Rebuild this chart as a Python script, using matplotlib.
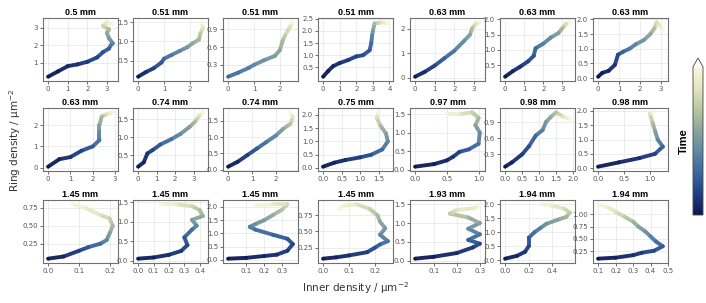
import numpy as np
import matplotlib
matplotlib.use("Agg")
import matplotlib.pyplot as plt
from matplotlib.collections import LineCollection
from matplotlib.colors import LinearSegmentedColormap, Normalize
from matplotlib.cm import ScalarMappable

titles = ["0.5 mm", "0.51 mm", "0.51 mm", "0.51 mm", "0.63 mm", "0.63 mm", "0.63 mm",
          "0.63 mm", "0.74 mm", "0.74 mm", "0.75 mm", "0.97 mm", "0.98 mm", "0.98 mm",
          "1.45 mm", "1.45 mm", "1.45 mm", "1.45 mm", "1.93 mm", "1.94 mm", "1.94 mm"]

xs = [
    [0, 0.5, 1, 1.5, 2, 2.5, 2.8, 3.1, 3.2, 3.3, 3.1, 3.0, 3.1, 2.8, 3.0, 3.3],
    [0, 0.3, 0.6, 0.9, 1.0, 1.3, 1.6, 1.9, 2.1, 2.35, 2.4, 2.5, 2.45],
    [0, 0.4, 0.8, 1.0, 1.4, 1.8, 2.0, 2.1, 2.2, 2.4, 2.5],
    [0, 0.3, 0.6, 1.0, 1.5, 2.0, 2.4, 2.8, 2.9, 2.95, 3.0, 3.1, 3.5, 3.9],
    [0, 0.5, 1.0, 1.5, 2.0, 2.5, 2.8, 2.9, 3.1, 3.3],
    [0, 0.4, 0.8, 1.2, 1.5, 1.6, 2.0, 2.4, 2.8, 3.0, 3.2, 3.4],
    [0, 0.2, 0.5, 0.8, 0.95, 1.2, 1.5, 1.8, 2.2, 2.5, 2.7, 2.8, 3.0, 3.1],
    [0, 0.5, 1.0, 1.5, 2.0, 2.3, 2.3, 2.3, 2.4, 2.6, 2.9],
    [0, 0.3, 0.5, 0.8, 1.2, 1.8, 2.3, 2.8, 3.1, 3.3, 3.5],
    [0, 0.4, 0.8, 1.2, 1.6, 2.0, 2.3, 2.6, 2.7, 2.6],
    [0, 0.3, 0.6, 1.0, 1.3, 1.6, 1.75, 1.7, 1.55, 1.45, 1.5],
    [0, 0.3, 0.5, 0.6, 0.7, 0.85, 1.0, 1.02, 0.95, 1.0, 0.9, 0.7, 0.5],
    [0, 0.2, 0.5, 0.7, 0.9, 1.1, 1.2, 1.35, 1.5, 1.7, 1.9],
    [0, 0.4, 0.8, 1.1, 1.25, 1.15, 1.1, 1.05, 1.0, 1.05],
    [0, 0.05, 0.1, 0.13, 0.17, 0.19, 0.2, 0.21, 0.2, 0.17, 0.12, 0.08],
    [0, 0.1, 0.2, 0.28, 0.32, 0.3, 0.35, 0.38, 0.35, 0.42, 0.4, 0.35, 0.25, 0.15],
    [0, 0.1, 0.2, 0.27, 0.33, 0.36, 0.33, 0.25, 0.15, 0.12, 0.15, 0.2, 0.25, 0.3, 0.33, 0.25, 0.15],
    [0, 0.05, 0.1, 0.17, 0.2, 0.22, 0.25, 0.22, 0.24, 0.22, 0.21, 0.18, 0.13, 0.08, 0.06],
    [0.02, 0.1, 0.2, 0.27, 0.3, 0.25, 0.3, 0.25, 0.3, 0.25, 0.17, 0.2, 0.28, 0.3],
    [0, 0.1, 0.17, 0.2, 0.2, 0.25, 0.3, 0.35, 0.45, 0.52, 0.55, 0.5, 0.4, 0.3],
    [0.1, 0.2, 0.3, 0.35, 0.42, 0.47, 0.43, 0.4, 0.37, 0.33, 0.3, 0.25, 0.2, 0.15, 0.1],
]

ys = [
    [0.2, 0.5, 0.8, 0.9, 1.05, 1.3, 1.6, 1.8, 2.0, 2.1, 2.4, 2.7, 2.9, 3.1, 3.3, 3.2],
    [0.08, 0.2, 0.3, 0.45, 0.55, 0.65, 0.75, 0.85, 0.95, 1.05, 1.2, 1.35, 1.5],
    [0.1, 0.17, 0.25, 0.3, 0.38, 0.45, 0.55, 0.7, 0.8, 0.95, 1.02],
    [0.12, 0.35, 0.55, 0.68, 0.8, 0.95, 1.0, 1.2, 1.5, 1.8, 2.0, 2.3, 2.35, 2.3],
    [0.05, 0.25, 0.5, 0.8, 1.1, 1.5, 1.75, 2.0, 2.2, 2.25],
    [0.12, 0.3, 0.45, 0.62, 0.8, 1.05, 1.2, 1.4, 1.55, 1.7, 1.85, 1.9],
    [0.05, 0.18, 0.25, 0.45, 0.8, 0.9, 1.0, 1.15, 1.3, 1.5, 1.7, 1.9, 1.75, 1.6],
    [0.05, 0.4, 0.5, 0.8, 1.0, 1.3, 1.7, 2.0, 2.4, 2.5, 2.6],
    [0.18, 0.3, 0.55, 0.65, 0.8, 0.95, 1.1, 1.3, 1.45, 1.6, 1.7],
    [0.1, 0.25, 0.45, 0.65, 0.85, 1.05, 1.25, 1.4, 1.6, 1.75],
    [0.05, 0.2, 0.3, 0.4, 0.5, 0.7, 1.0, 1.3, 1.6, 1.9, 2.1],
    [0.08, 0.15, 0.25, 0.35, 0.48, 0.55, 0.7, 1.0, 1.2, 1.4, 1.55, 1.5, 1.5],
    [0.07, 0.15, 0.3, 0.45, 0.65, 0.75, 0.9, 1.0, 1.08, 1.0, 0.95],
    [0.05, 0.2, 0.35, 0.5, 0.75, 1.0, 1.3, 1.6, 1.9, 1.95],
    [0.04, 0.07, 0.15, 0.2, 0.25, 0.3, 0.4, 0.5, 0.6, 0.65, 0.75, 0.8],
    [0.05, 0.08, 0.15, 0.25, 0.4, 0.6, 0.8, 0.9, 1.05, 1.15, 1.3, 1.4, 1.45, 1.45],
    [0.05, 0.08, 0.15, 0.2, 0.35, 0.6, 0.8, 0.95, 1.15, 1.25, 1.35, 1.5, 1.7, 1.9, 2.1, 2.1, 2.05],
    [0.08, 0.1, 0.13, 0.18, 0.25, 0.3, 0.35, 0.45, 0.55, 0.65, 0.75, 0.85, 0.92, 0.9, 0.85],
    [0.05, 0.1, 0.2, 0.35, 0.45, 0.55, 0.7, 0.85, 1.0, 1.15, 1.25, 1.35, 1.4, 1.5],
    [0.05, 0.15, 0.3, 0.5, 0.8, 1.0, 1.15, 1.3, 1.45, 1.55, 1.7, 1.85, 1.95, 2.0],
    [0.1, 0.12, 0.17, 0.22, 0.26, 0.35, 0.45, 0.55, 0.65, 0.75, 0.85, 0.95, 1.05, 1.15, 1.2],
]

# time fraction at each waypoint
ts = [
    [0, 0.03, 0.06, 0.09, 0.12, 0.16, 0.2, 0.25, 0.35, 0.42, 0.5, 0.58, 0.66, 0.78, 0.9, 1.0],
    [0, 0.08, 0.15, 0.22, 0.3, 0.36, 0.42, 0.5, 0.58, 0.65, 0.72, 0.85, 1.0],
    [0.3, 0.34, 0.38, 0.42, 0.47, 0.52, 0.58, 0.66, 0.74, 0.85, 1.0],
    [0, 0.03, 0.06, 0.09, 0.12, 0.15, 0.18, 0.22, 0.3, 0.4, 0.5, 0.65, 0.85, 1.0],
    [0, 0.08, 0.16, 0.26, 0.36, 0.46, 0.56, 0.68, 0.85, 1.0],
    [0, 0.05, 0.1, 0.15, 0.22, 0.3, 0.38, 0.45, 0.55, 0.65, 0.82, 1.0],
    [0, 0.03, 0.06, 0.1, 0.18, 0.28, 0.36, 0.42, 0.5, 0.58, 0.68, 0.82, 0.92, 1.0],
    [0, 0.05, 0.1, 0.16, 0.24, 0.34, 0.44, 0.54, 0.66, 0.82, 1.0],
    [0, 0.05, 0.1, 0.16, 0.24, 0.34, 0.44, 0.55, 0.68, 0.84, 1.0],
    [0, 0.06, 0.14, 0.24, 0.34, 0.44, 0.56, 0.7, 0.85, 1.0],
    [0, 0.04, 0.08, 0.13, 0.2, 0.3, 0.42, 0.54, 0.66, 0.82, 1.0],
    [0, 0.03, 0.06, 0.1, 0.16, 0.24, 0.34, 0.46, 0.56, 0.66, 0.76, 0.88, 1.0],
    [0, 0.05, 0.12, 0.2, 0.3, 0.4, 0.5, 0.6, 0.7, 0.85, 1.0],
    [0, 0.04, 0.08, 0.14, 0.28, 0.42, 0.55, 0.68, 0.85, 1.0],
    [0, 0.06, 0.14, 0.22, 0.32, 0.42, 0.55, 0.66, 0.76, 0.84, 0.92, 1.0],
    [0, 0.04, 0.08, 0.12, 0.17, 0.24, 0.32, 0.42, 0.52, 0.6, 0.68, 0.78, 0.88, 1.0],
    [0, 0.02, 0.05, 0.08, 0.12, 0.17, 0.22, 0.27, 0.32, 0.38, 0.45, 0.52, 0.6, 0.7, 0.8, 0.9, 1.0],
    [0, 0.04, 0.08, 0.13, 0.2, 0.27, 0.34, 0.42, 0.5, 0.58, 0.66, 0.76, 0.86, 0.94, 1.0],
    [0, 0.03, 0.07, 0.12, 0.18, 0.25, 0.34, 0.44, 0.54, 0.64, 0.74, 0.84, 0.92, 1.0],
    [0, 0.05, 0.1, 0.16, 0.24, 0.32, 0.4, 0.48, 0.56, 0.64, 0.72, 0.82, 0.92, 1.0],
    [0, 0.04, 0.08, 0.12, 0.17, 0.24, 0.32, 0.4, 0.48, 0.56, 0.64, 0.74, 0.84, 0.93, 1.0],
]

xticks = [
    [0, 1, 2, 3], [0, 1, 2], [0, 1, 2], [0, 1, 2, 3, 4], [0, 1, 2, 3], [0, 1, 2, 3], [0, 1, 2, 3],
    [0, 1, 2, 3], [0, 1, 2, 3], [0, 1, 2], [0.0, 0.5, 1.0, 1.5], [0.0, 0.5, 1.0],
    [0.0, 0.5, 1.0, 1.5, 2.0], [0.0, 0.5, 1.0],
    [0.0, 0.1, 0.2], [0.0, 0.1, 0.2, 0.3, 0.4], [0.1, 0.2, 0.3], [0.0, 0.1, 0.2],
    [0.1, 0.2, 0.3], [0.0, 0.2, 0.4], [0.1, 0.2, 0.3, 0.4, 0.5],
]
yticks = [
    [1, 2, 3], [0.5, 1.0, 1.5], [0.3, 0.6, 0.9], [0.5, 1.0, 1.5, 2.0, 2.5], [0, 1, 2],
    [0.5, 1.0, 1.5, 2.0], [0.0, 0.5, 1.0, 1.5, 2.0],
    [0, 1, 2], [0.5, 1.0, 1.5], [0.0, 0.5, 1.0, 1.5], [0.0, 0.5, 1.0, 1.5, 2.0],
    [0.0, 0.5, 1.0, 1.5], [0.3, 0.6, 0.9], [0.0, 0.5, 1.0, 1.5, 2.0],
    [0.25, 0.50, 0.75], [0.0, 0.5, 1.0, 1.5], [0.0, 0.5, 1.0, 1.5, 2.0], [0.25, 0.50, 0.75],
    [0.0, 0.5, 1.0, 1.5], [0.0, 0.5, 1.0, 1.5, 2.0], [0.25, 0.50, 0.75, 1.00],
]

cmap = LinearSegmentedColormap.from_list(
    "time", ["#0b1750", "#1f3f86", "#3a679e", "#5f88a2", "#8aa59b", "#b9c79f", "#e2e6bd", "#f8f8e2"])
cmap.set_over("#ffffff")
norm = Normalize(0, 1)

plt.rcParams["font.family"] = ["DejaVu Sans"]
fig = plt.figure(figsize=(7.06, 3.03), dpi=100)
W, H = 706, 303
lefts = [43, 133, 223, 318, 410, 500, 593]
width = 75
tops = [18, 108, 200]
height = 63

for i in range(21):
    r, c = divmod(i, 7)
    ax = fig.add_axes([lefts[c] / W, 1 - (tops[r] + height) / H, width / W, height / H])
    x = np.array(xs[i]); y = np.array(ys[i]); t = np.array(ts[i])
    pts = np.column_stack([x, y]).reshape(-1, 1, 2)
    segs = np.concatenate([pts[:-1], pts[1:]], axis=1)
    lc = LineCollection(segs, cmap=cmap, norm=norm, linewidths=2.8, capstyle="round",
                        joinstyle="round", alpha=0.95, zorder=3)
    lc.set_array(0.5 * (t[:-1] + t[1:]))
    ax.add_collection(lc)
    ax.scatter(x, y, c=t, cmap=cmap, norm=norm, s=6, linewidths=0, zorder=4)
    ax.autoscale_view()
    ax.margins(0.08)
    ax.set_xticks(xticks[i])
    ax.set_yticks(yticks[i])
    ax.set_title(titles[i], fontsize=6.5, fontweight="bold", family="Liberation Sans", pad=2.5)
    ax.grid(True, color="#e6e6e6", lw=0.5, zorder=0)
    ax.set_axisbelow(True)
    for s in ax.spines.values():
        s.set_color("#707070"); s.set_linewidth(0.8)
    ax.tick_params(labelsize=5, colors="#555555", length=2, width=0.6, pad=1.5)

fig.text(356 / W, 1 - 288 / H, "Inner density / µm$^{-2}$", ha="center", va="center", fontsize=7.5, color="#333333")
fig.text(15 / W, 1 - 140 / H, "Ring density / µm$^{-2}$", ha="center", va="center", rotation=90, fontsize=7.5, color="#333333")

cax = fig.add_axes([693 / W, 1 - 215 / H, 10 / W, 157 / H])
cb = fig.colorbar(ScalarMappable(norm=norm, cmap=cmap), cax=cax, extend="max", extendfrac=0.06)
cb.set_ticks([])
cb.outline.set_linewidth(0.6)
cb.outline.set_edgecolor("#444444")
cax.set_ylabel("Time", fontsize=8, fontweight="bold", family="Liberation Sans", labelpad=3)
cax.yaxis.set_label_position("left")

fig.savefig("out.png", dpi=100)
